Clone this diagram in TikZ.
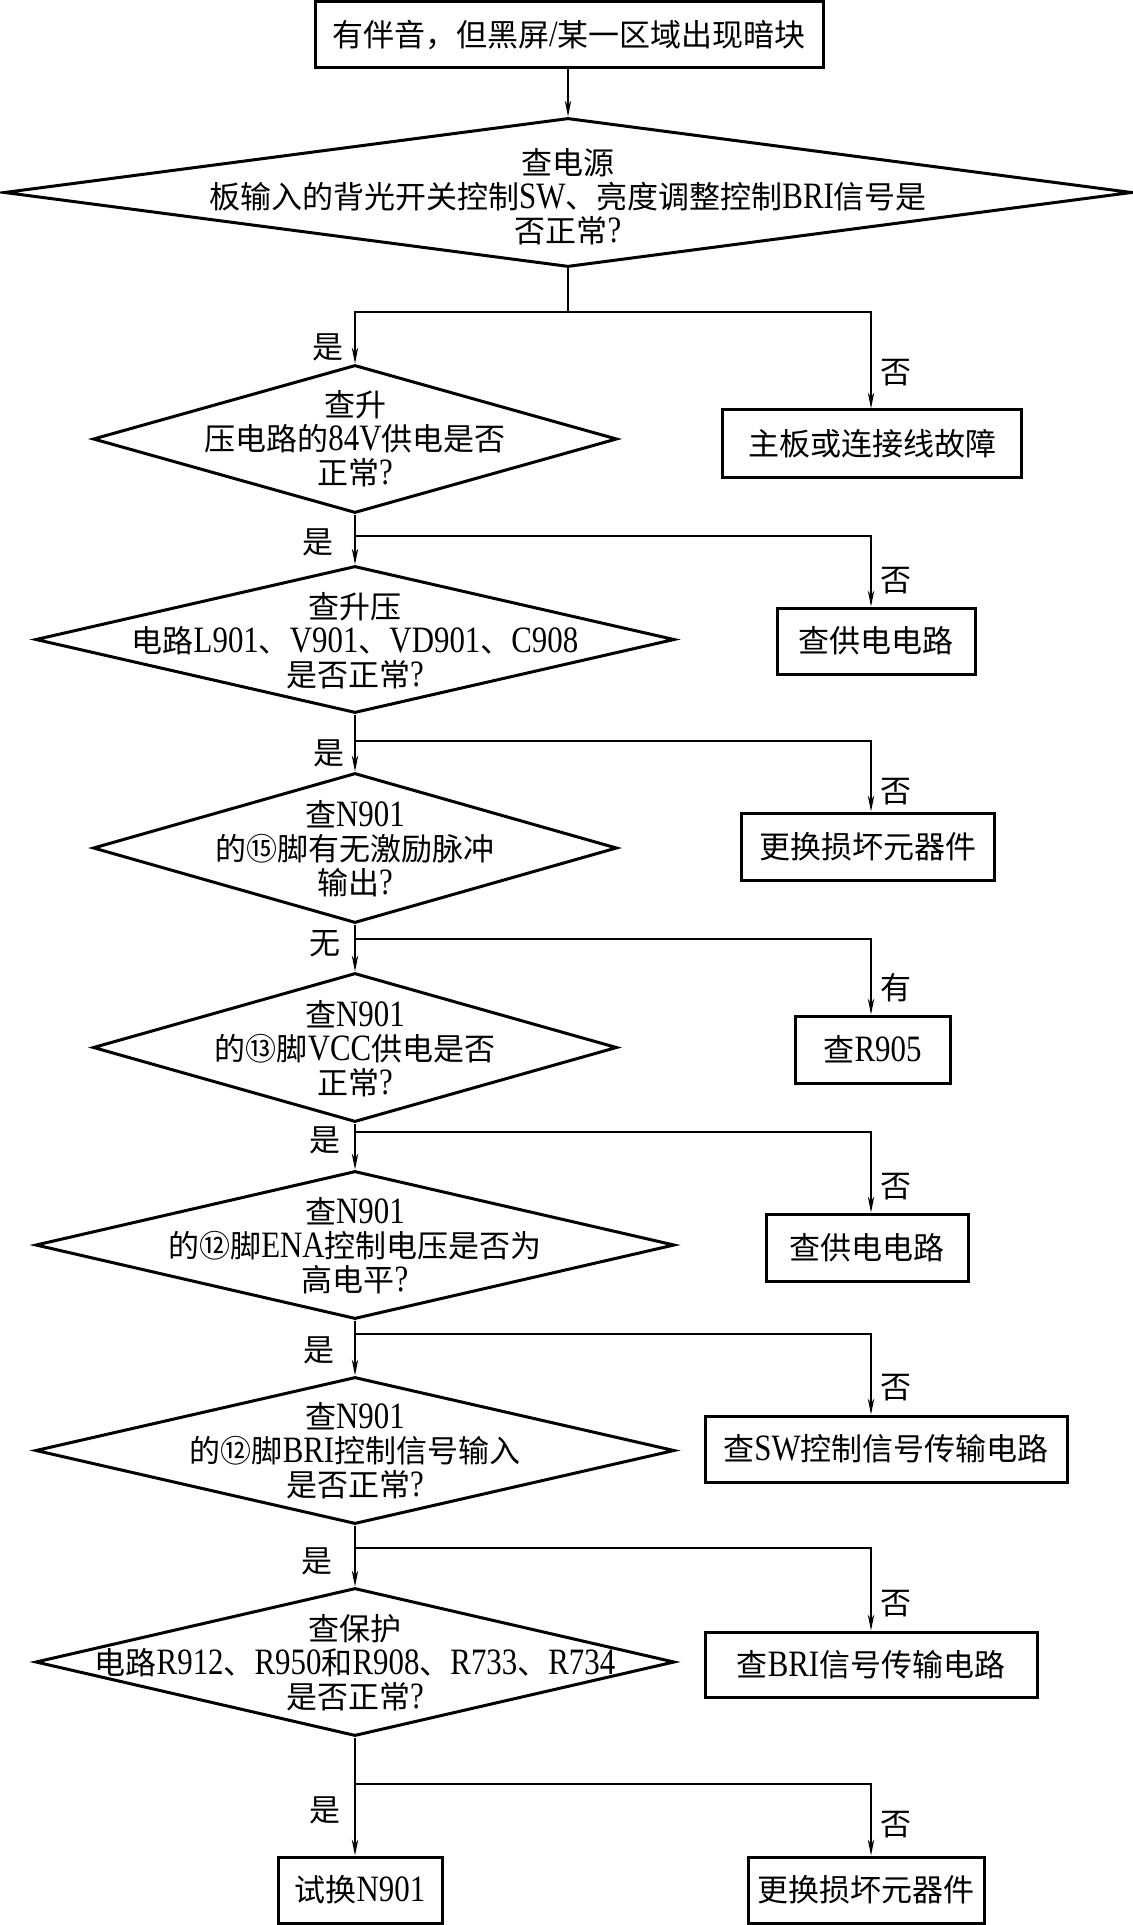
\documentclass[tikz,border=0pt]{standalone}
\usepackage{fontspec}
\setmainfont{Liberation Serif}
\newfontfamily\cjk{Noto Sans CJK SC}
\newfontfamily\latfont[Scale=1.2,FakeStretch=0.83]{Liberation Serif}
\newcommand\latn[1]{{\latfont #1}}
\usetikzlibrary{shapes.geometric,arrows.meta}
\tikzset{
  txt/.style={font=\cjk\fontsize{15.5pt}{17pt}\selectfont},
  box/.style={txt, draw, line width=1.5pt, inner sep=0pt, align=center},
  dia/.style={draw, diamond, line width=1.5pt, inner sep=0pt},
  dtext/.style={txt, inner sep=0pt, align=center},
  lab/.style={txt, inner sep=0pt},
  conn/.style={line width=0.65pt},
  arr/.style={conn, -{Stealth[length=8pt,width=3.2pt,inset=2.5pt]}},
}
\begin{document}
\begin{tikzpicture}[x=0.5pt,y=-0.5pt]
\useasboundingbox (0,0) rectangle (1133,1925);
% boxes
\node[box, minimum width=254pt, minimum height=33.25pt] (b0) at (569,34.75) {有伴音，但黑屏\latn{/}某一区域出现暗块};
\node[box, minimum width=149.5pt, minimum height=33.5pt] (b1) at (872,443.5) {主板或连接线故障};
\node[box, minimum width=99pt, minimum height=33pt] (b2) at (876,641) {查供电电路};
\node[box, minimum width=126.5pt, minimum height=33.5pt] (b3) at (867.5,846.5) {更换损坏元器件};
\node[box, minimum width=77.5pt, minimum height=33.5pt] (b4) at (872.5,1049.5) {查\latn{R905}};
\node[box, minimum width=101pt, minimum height=33.5pt] (b5) at (867,1247.5) {查供电电路};
\node[box, minimum width=181pt, minimum height=33pt] (b6) at (886,1449) {查\latn{SW}控制信号传输电路};
\node[box, minimum width=166pt, minimum height=32.5pt] (b7) at (871,1664.5) {查\latn{BRI}信号传输电路};
\node[box, minimum width=82pt, minimum height=33pt] (b8) at (360,1890) {试换\latn{N901}};
\node[box, minimum width=118pt, minimum height=33pt] (b9) at (866,1890) {更换损坏元器件};
% diamonds
\node[dia, minimum width=564pt, minimum height=74.5pt] (d1) at (568,192.5) {};
\node[dia, minimum width=262pt, minimum height=74pt] (d2) at (355,439) {};
\node[dia, minimum width=319.5pt, minimum height=73.5pt] (d3) at (355,639.5) {};
\node[dia, minimum width=262pt, minimum height=75pt] (d4) at (355,848) {};
\node[dia, minimum width=262pt, minimum height=74.5pt] (d5) at (355,1047.5) {};
\node[dia, minimum width=319.5pt, minimum height=74pt] (d6) at (355,1245) {};
\node[dia, minimum width=319.5pt, minimum height=73.5pt] (d7) at (355,1450.5) {};
\node[dia, minimum width=319.5pt, minimum height=74pt] (d8) at (355,1662) {};
% diamond texts
\node[dtext] (d1t) at (568,197) {查电源\\板输入的背光开关控制\latn{SW}、亮度调整控制\latn{BRI}信号是\\否正常\latn{?}};
\node[dtext] (d2t) at (355,439) {查升\\压电路的\latn{84V}供电是否\\正常\latn{?}};
\node[dtext] (d3t) at (355,641) {查升压\\电路\latn{L901}、\latn{V901}、\latn{VD901}、\latn{C908}\\是否正常\latn{?}};
\node[dtext] (d4t) at (355,849) {查\latn{N901}\\的⑮脚有无激励脉冲\\输出\latn{?}};
\node[dtext] (d5t) at (355,1049) {查\latn{N901}\\的⑬脚\latn{VCC}供电是否\\正常\latn{?}};
\node[dtext] (d6t) at (355,1246) {查\latn{N901}\\的⑫脚\latn{ENA}控制电压是否为\\高电平\latn{?}};
\node[dtext] (d7t) at (355,1451) {查\latn{N901}\\的⑫脚\latn{BRI}控制信号输入\\是否正常\latn{?}};
\node[dtext] (d8t) at (355,1663) {查保护\\电路\latn{R912}、\latn{R950}和\latn{R908}、\latn{R733}、\latn{R734}\\是否正常\latn{?}};
% split points
\coordinate (rx) at (871,0);
\coordinate (s1) at (568,312);
\coordinate (s2) at (355,536);
\coordinate (s3) at (355,741);
\coordinate (s4) at (355,939);
\coordinate (s5) at (355,1132);
\coordinate (s6) at (355,1334);
\coordinate (s7) at (355,1548);
\coordinate (s8) at (355,1784);
% connectors
\draw[arr] (b0.south -| d1.north) -- (d1.north);
\draw[conn] (d1.south) -- (s1);
\draw[arr] (s1) -| (d2.north);
\draw[arr] (s1) -| (b1.north -| rx);
\draw[arr] (d2.south) -- (d3.north);
\draw[arr] (s2) -| (b2.north -| rx);
\draw[arr] (d3.south) -- (d4.north);
\draw[arr] (s3) -| (b3.north -| rx);
\draw[arr] (d4.south) -- (d5.north);
\draw[arr] (s4) -| (b4.north -| rx);
\draw[arr] (d5.south) -- (d6.north);
\draw[arr] (s5) -| (b5.north -| rx);
\draw[arr] (d6.south) -- (d7.north);
\draw[arr] (s6) -| (b6.north -| rx);
\draw[arr] (d7.south) -- (d8.north);
\draw[arr] (s7) -| (b7.north -| rx);
\draw[arr] (d8.south) -- (b8.north -| d8.south);
\draw[arr] (s8) -| (b9.north -| rx);
% labels
\node[lab] (y1) at (328,347) {是};
\node[lab] (n1) at (896,373) {否};
\node[lab] (y2) at (318,542) {是};
\node[lab] (n2) at (896,581) {否};
\node[lab] (y3) at (329,753) {是};
\node[lab] (n3) at (896,792) {否};
\node[lab] (y4) at (325,944) {无};
\node[lab] (n4) at (896,988) {有};
\node[lab] (y5) at (325,1140) {是};
\node[lab] (n5) at (896,1187) {否};
\node[lab] (y6) at (319,1350) {是};
\node[lab] (n6) at (896,1388) {否};
\node[lab] (y7) at (317,1561) {是};
\node[lab] (n7) at (896,1604) {否};
\node[lab] (y8) at (325,1810) {是};
\node[lab] (n8) at (896,1825) {否};
\end{tikzpicture}
\end{document}
